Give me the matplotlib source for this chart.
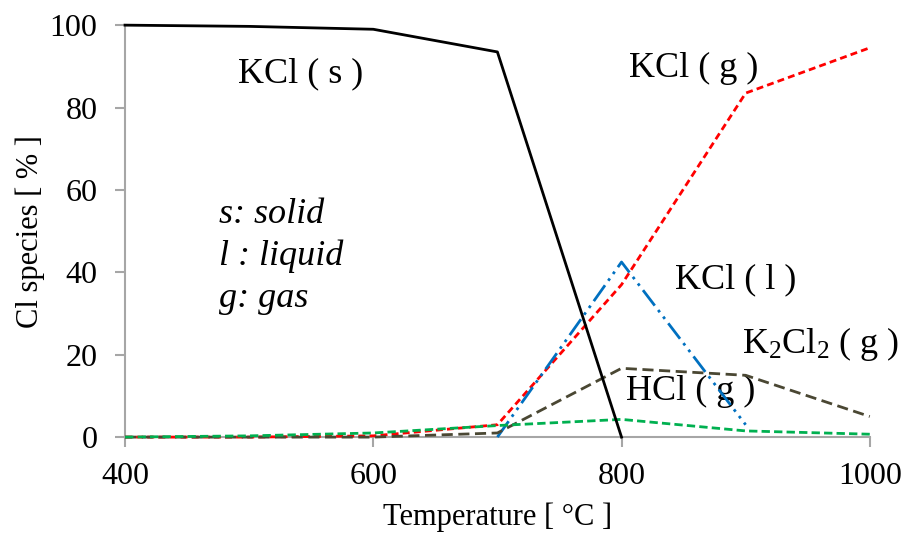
import matplotlib.pyplot as plt

# temperatures and species fractions (Cl species, %)
temp = [400, 500, 600, 700, 800, 900, 1000]
kcl_s = [100, 99.7, 99, 93.5, 0]
kcl_g = [0, 0, 0.3, 3, 37, 83.5, 94.5]
kcl_l_temp = [700, 800, 900]
kcl_l = [0, 42.5, 3]
k2cl2_g = [0, 0, 0, 1, 16.7, 15, 5]
hcl_g = [0, 0.3, 1, 2.8, 4.3, 1.5, 0.7]

plt.rcParams['font.family'] = ['Liberation Serif', 'DejaVu Serif']
plt.rcParams['mathtext.fontset'] = 'custom'
plt.rcParams['mathtext.rm'] = 'Liberation Serif'
plt.rcParams['mathtext.it'] = 'Liberation Serif:italic'

fig = plt.figure(figsize=(9.06, 5.35), dpi=100)
ax = fig.add_axes([0.138, 0.183, 0.822, 0.770])

ax.plot(temp[:5], kcl_s, color='black', lw=2, clip_on=False, zorder=5)
ax.plot(temp, kcl_g, color='#FF0000', lw=2, dashes=(2.5, 1.5), clip_on=False, zorder=4)
ax.plot(kcl_l_temp, kcl_l, color='#0070C0', lw=2, dashes=(7, 2, 1, 2, 1, 2), clip_on=False, zorder=4)
ax.plot(temp, k2cl2_g, color='#4A4733', lw=2, dashes=(4, 2), clip_on=False, zorder=4)
ax.plot(temp, hcl_g, color='#00B050', lw=2, dashes=(3, 1.5), clip_on=False, zorder=4)

ax.set_xlim(400, 1000)
ax.set_ylim(0, 100)
ax.set_xticks([400, 600, 800, 1000])
ax.set_yticks([0, 20, 40, 60, 80, 100])
for s in ['top', 'right']:
    ax.spines[s].set_visible(False)
for s in ['left', 'bottom']:
    ax.spines[s].set_color('#A6A6A6')
    ax.spines[s].set_linewidth(1.5)
ax.tick_params(axis='both', direction='out', length=7, width=1.5, color='#A6A6A6',
               labelsize=23)
ax.tick_params(axis='x', pad=11)
ax.tick_params(axis='y', pad=13)

ax.set_xlabel('Temperature [ \u00b0C ]', fontsize=22, labelpad=8)
ax.set_ylabel('Cl species [ % ]', fontsize=22, labelpad=3)

fs = 26
ax.text(491, 86.2, 'KCl ( s )', fontsize=fs)
ax.text(806, 87.4, 'KCl ( g )', fontsize=fs)
ax.text(843, 36.2, 'KCl ( l )', fontsize=fs)
ax.text(897, 20.4, r'K$_\mathrm{2}$Cl$_\mathrm{2}$ ( g )', fontsize=fs)
ax.text(804, 9, 'HCl ( g )', fontsize=fs)

ax.text(476, 51.9, 's: solid', fontsize=fs, style='italic')
ax.text(476, 41.7, 'l : liquid', fontsize=fs, style='italic')
ax.text(476, 31.6, 'g: gas', fontsize=fs, style='italic')

fig.savefig('out.png', dpi=100)
